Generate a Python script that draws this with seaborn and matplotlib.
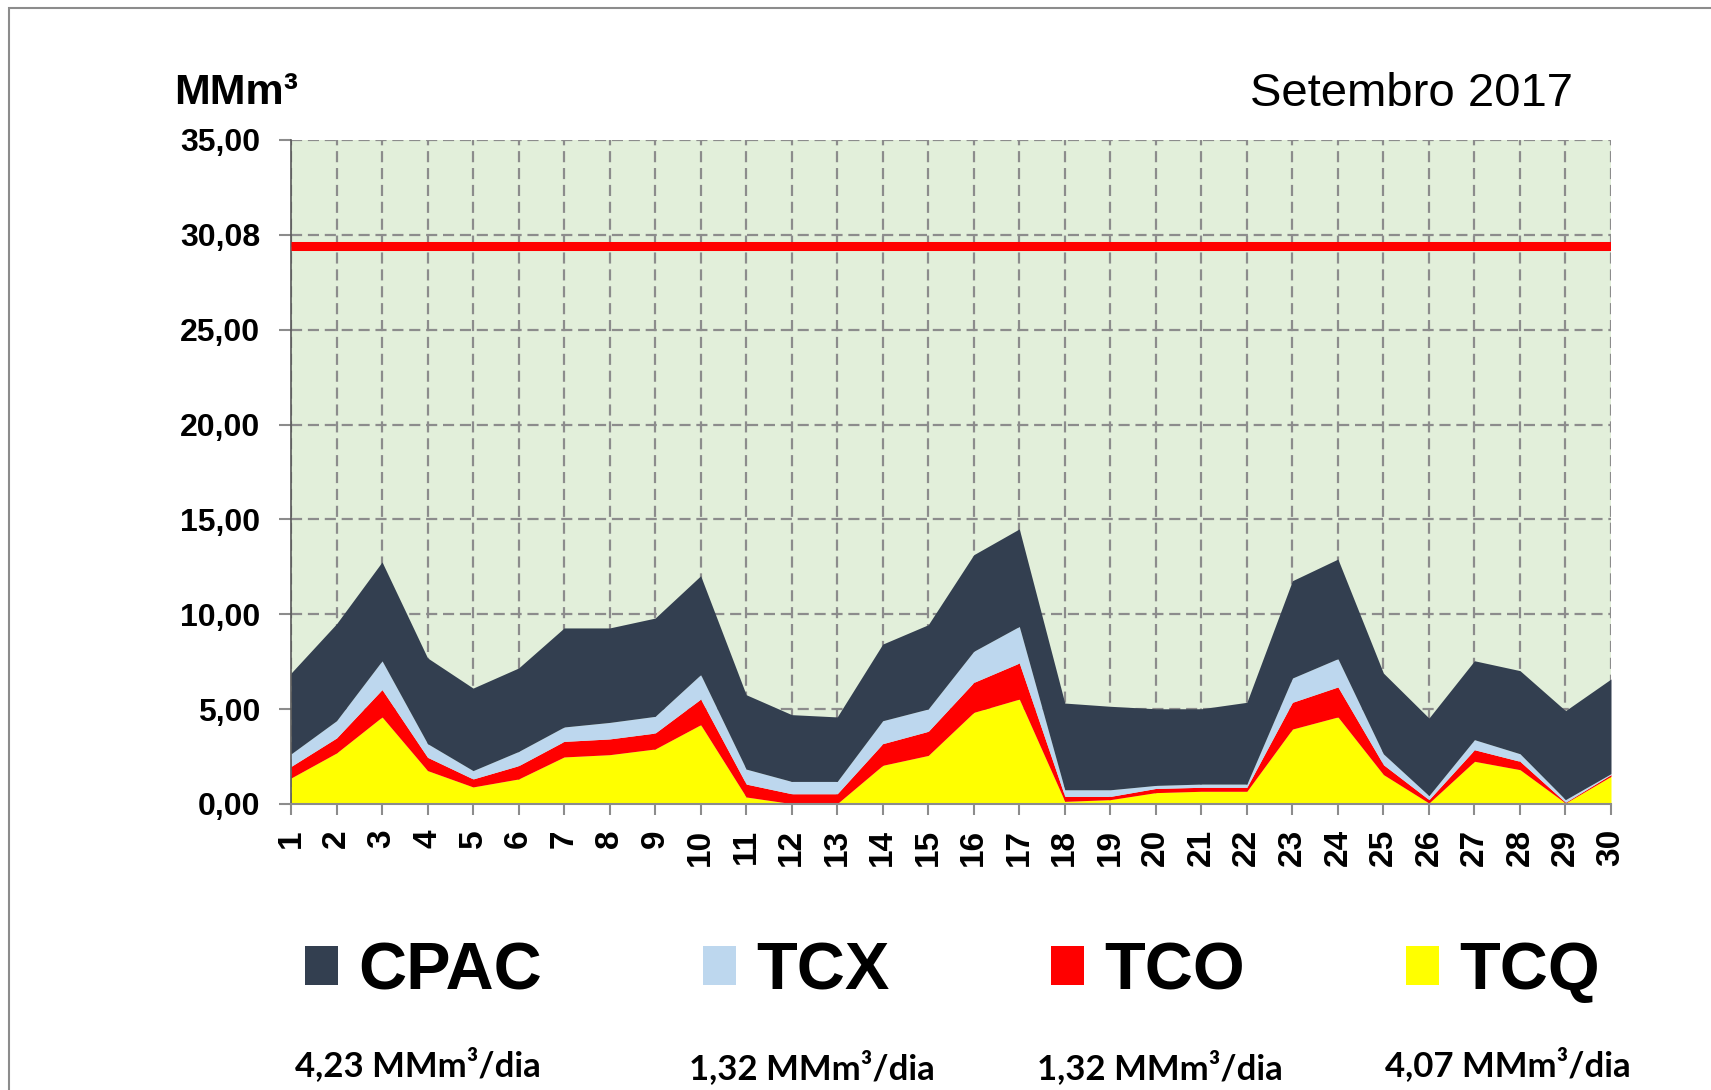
import matplotlib
matplotlib.use("Agg")
import matplotlib.pyplot as plt
from matplotlib.patches import Rectangle
import seaborn as sns
import pandas as pd

# ---------------------------------------------------------------
# Dados (MMm3 por dia, setembro 2017)
# ---------------------------------------------------------------
dias = list(range(1, 31))

tcq = [1.37, 2.69, 4.59, 1.76, 0.90, 1.32, 2.48, 2.60, 2.90, 4.18,
       0.37, 0.02, 0.02, 2.04, 2.56, 4.83, 5.53, 0.14, 0.23, 0.60,
       0.67, 0.67, 3.95, 4.59, 1.55, 0.05, 2.25, 1.81, 0.05, 1.46]
tco = [0.61, 0.79, 1.44, 0.70, 0.42, 0.70, 0.82, 0.83, 0.84, 1.35,
       0.68, 0.52, 0.52, 1.14, 1.27, 1.58, 1.90, 0.26, 0.17, 0.22,
       0.21, 0.21, 1.41, 1.58, 0.52, 0.18, 0.61, 0.44, 0.04, 0.09]
tcx = [0.66, 0.91, 1.52, 0.72, 0.44, 0.75, 0.76, 0.87, 0.88, 1.29,
       0.79, 0.65, 0.65, 1.21, 1.18, 1.64, 1.93, 0.35, 0.35, 0.16,
       0.17, 0.17, 1.28, 1.49, 0.57, 0.21, 0.53, 0.40, 0.14, 0.05]
cpac = [4.26, 5.11, 5.21, 4.52, 4.35, 4.40, 5.22, 4.98, 5.18, 5.21,
        3.92, 3.52, 3.40, 4.04, 4.44, 5.09, 5.14, 4.57, 4.40, 4.04,
        3.97, 4.31, 5.13, 5.25, 4.26, 4.09, 4.16, 4.38, 4.69, 4.99]

series = ["CPAC", "TCX", "TCO", "TCQ"]
medias = ["4,23 MMm³/dia", "1,32 MMm³/dia", "1,32 MMm³/dia", "4,07 MMm³/dia"]

y_ticks = [0, 5, 10, 15, 20, 25, 30, 35]
y_labels = ["0,00", "5,00", "10,00", "15,00", "20,00", "25,00", "30,08", "35,00"]
limite = 29.4  # linha vermelha de capacidade

# cores
COR_CPAC = "#333F50"
COR_TCX = "#BDD7EE"
COR_TCO = "#FF0000"
COR_TCQ = "#FFFF00"
COR_FUNDO = "#E2EFDA"
COR_GRADE = "#8C8C8C"

sns.set_theme(style="white")
plt.rcParams["font.family"] = ["Liberation Sans", "DejaVu Sans"]
plt.rcParams["text.color"] = "black"
plt.rcParams["xtick.labelcolor"] = "black"
plt.rcParams["ytick.labelcolor"] = "black"

fig = plt.figure(figsize=(17.11, 10.90), dpi=100)
ax = fig.add_axes([291 / 1711, 1 - 804 / 1090, 1320 / 1711, 664 / 1090])
ax.set_facecolor(COR_FUNDO)

areas = ax.stackplot(dias, tcq, tco, tcx, cpac,
                     colors=[COR_TCQ, COR_TCO, COR_TCX, COR_CPAC],
                     linewidth=0, zorder=2)

df_lim = pd.DataFrame({"dia": dias, "limite": [limite] * len(dias)})
sns.lineplot(data=df_lim, x="dia", y="limite", color="#FF0000", linewidth=6.5,
             ax=ax, zorder=3, solid_capstyle="butt", legend=False)

ax.set_xlim(1, 30)
ax.set_ylim(0, 35)
ax.set_xticks(dias)
ax.set_xticklabels([str(d) for d in dias], rotation=90, fontsize=24, fontweight="bold")
ax.set_yticks(y_ticks)
ax.set_yticklabels(y_labels, fontsize=23, fontweight="bold")
ax.set_xlabel("")
ax.set_ylabel("")

ax.set_axisbelow(True)
ax.grid(True, color=COR_GRADE, linestyle=(0, (5, 2.6)), linewidth=1.6, zorder=0)
ax.tick_params(axis="y", length=8.6, width=1.5, color=COR_GRADE, pad=13.5, left=True)
ax.tick_params(axis="x", length=8, width=1.5, color=COR_GRADE, pad=10, bottom=True)

for lado in ["top", "right"]:
    ax.spines[lado].set_visible(False)
ax.spines["left"].set_color("#595959")
ax.spines["left"].set_linewidth(1.2)
ax.spines["bottom"].set_color(COR_GRADE)
ax.spines["bottom"].set_linewidth(1.5)

# titulos
fig.text(174 / 1711, 1 - 104 / 1090, "MMm³", fontsize=31, fontweight="bold",
         ha="left", va="baseline")
fig.text(1573 / 1711, 1 - 106 / 1090, "Setembro 2017", fontsize=34,
         ha="right", va="baseline")

# legenda
ordem = [areas[3], areas[2], areas[1], areas[0]]
fig.legend(ordem, series, loc="center left", bbox_to_anchor=(305 / 1711, 1 - 972 / 1090),
           ncol=4, frameon=False, borderpad=0, borderaxespad=0,
           handlelength=0.495, handleheight=0.51,
           handletextpad=0.3, columnspacing=2.42,
           prop={"family": "Liberation Sans", "weight": "bold", "size": 48})

centros = [418, 812, 1160, 1508]
alturas = [1065, 1068, 1068, 1065]
for txt, cx, cy in zip(medias, centros, alturas):
    fig.text(cx / 1711, 1 - cy / 1090, txt, fontsize=25, fontweight="bold",
             family=["Lato", "DejaVu Sans"], ha="center", va="center")

# moldura externa
fig.add_artist(Rectangle((9 / 1711, -0.1), 2, 1 - 8 / 1090 + 0.1, transform=fig.transFigure,
                         fill=False, edgecolor="#8C8C8C", linewidth=1.5))

fig.savefig("out.png", dpi=100)
